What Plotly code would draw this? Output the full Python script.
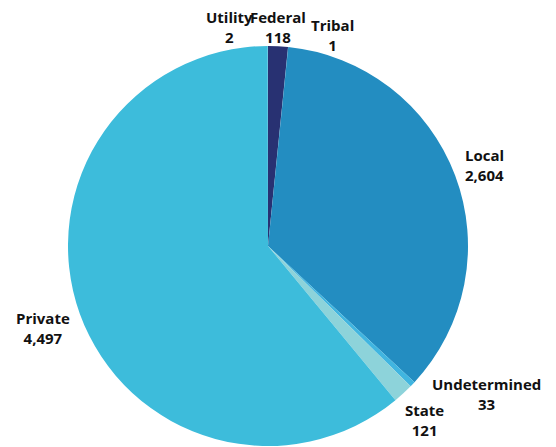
import plotly.graph_objects as go

labels = ["Federal", "Tribal", "Local", "Undetermined", "State", "Private", "Utility"]
values = [118, 1, 2604, 33, 121, 4497, 2]
colors = ["#283172", "#2a7fb8", "#238dc1", "#40b5e0", "#8dd3da", "#3dbcdb", "#3dbcdb"]

# label anchor positions in pixels (x, y from top), and x-anchor
label_pos = {
    "Utility": (229, 27, "center"),
    "Federal": (278, 27, "center"),
    "Tribal": (332, 35, "center"),
    "Local": (463, 165, "left"),
    "Undetermined": (486, 394, "center"),
    "State": (424, 420, "center"),
    "Private": (43, 328, "center"),
}

W, H = 556, 447
cx, cy, r = 268, 246, 200

fig = go.Figure(go.Pie(
    labels=labels, values=values, sort=False, direction="clockwise",
    rotation=0, textinfo="none", hoverinfo="label+value",
    marker=dict(colors=colors, line=dict(width=0)),
    domain=dict(x=[(cx - r) / W, (cx + r) / W], y=[(H - cy - r) / H, (H - cy + r) / H]),
    showlegend=False,
))

anns = []
for lab, val in zip(labels, values):
    x, y, anchor = label_pos[lab]
    anns.append(dict(
        x=x / W, y=1 - y / H, xref="paper", yref="paper",
        text=f"<b>{lab}<br>{val:,}</b>", showarrow=False,
        xanchor=anchor, yanchor="middle", align=anchor if anchor != "center" else "center",
        font=dict(family="Open Sans", size=15, color="#111111"),
    ))

fig.update_layout(
    width=W, height=H, margin=dict(l=0, r=0, t=0, b=0),
    paper_bgcolor="white", plot_bgcolor="white",
    annotations=anns,
)
fig.write_html("out.html", config={"displayModeBar": False},
               post_script="document.body.style.margin='0';document.body.style.overflow='hidden';")
